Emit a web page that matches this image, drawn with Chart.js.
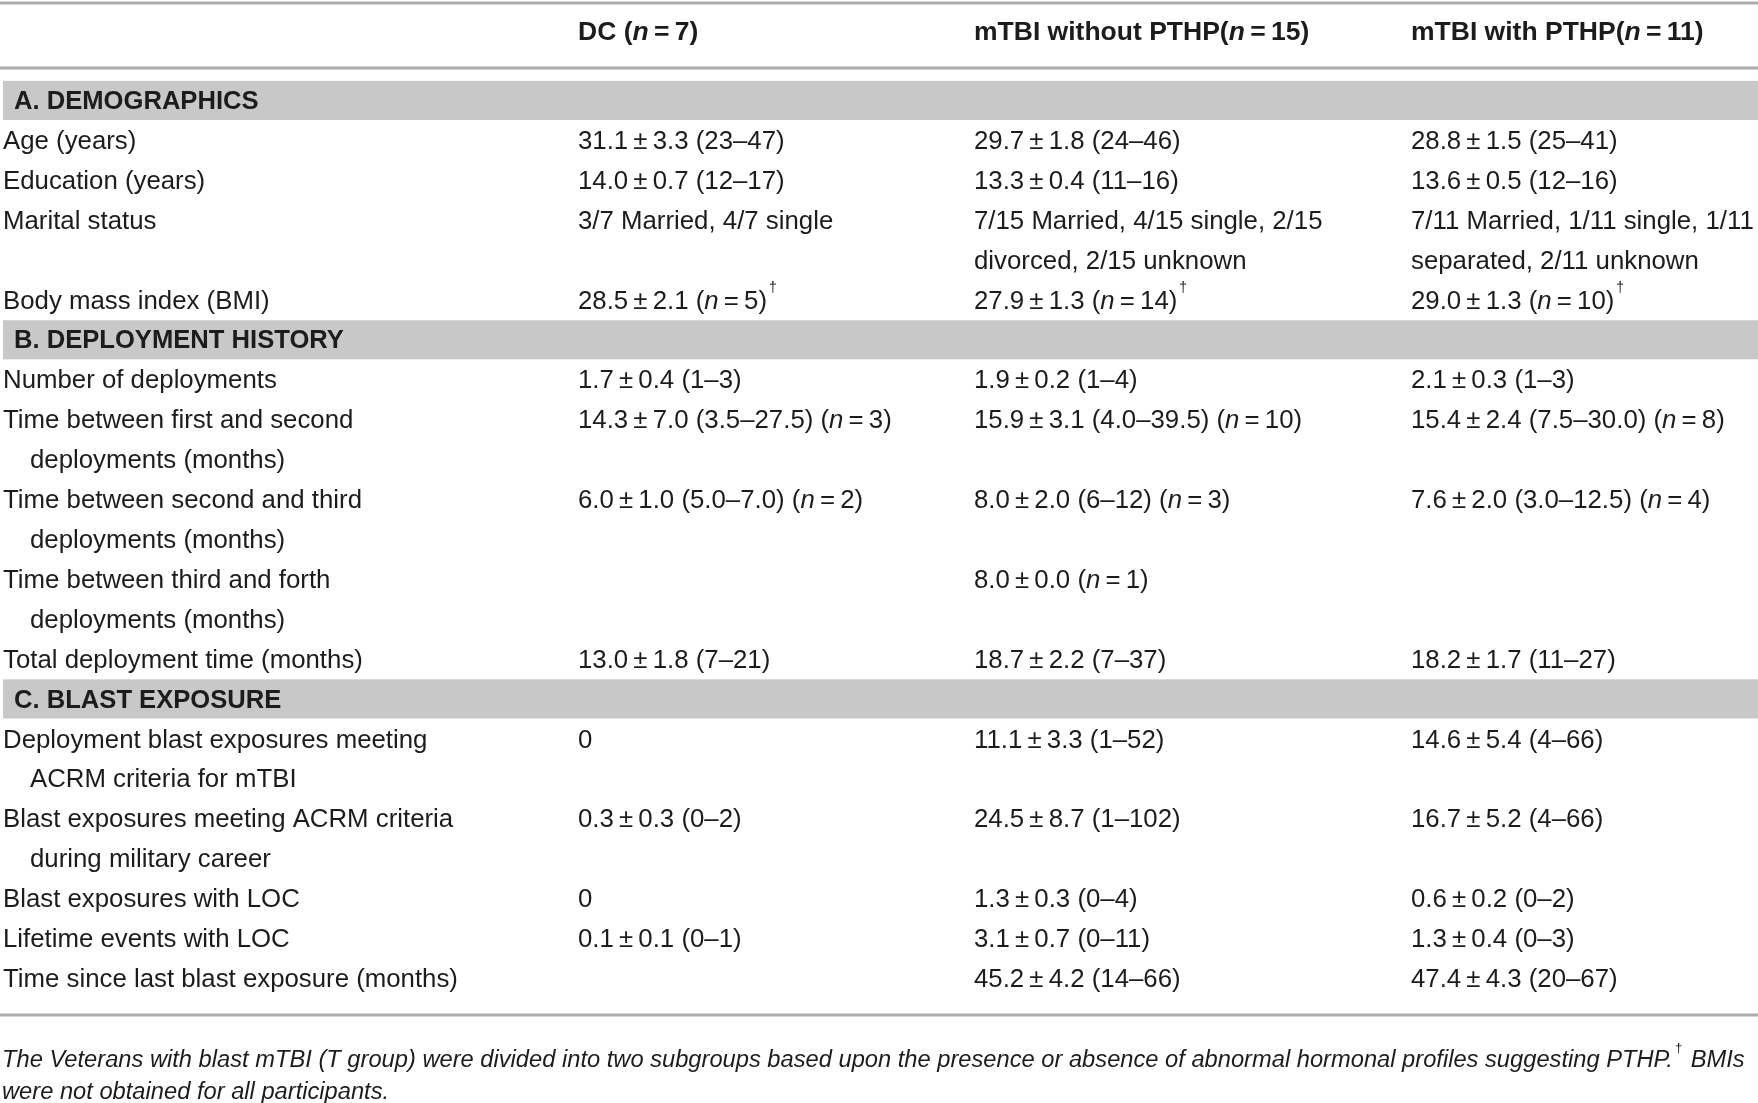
<!DOCTYPE html>
<html>
<head>
<meta charset="utf-8">
<script src="https://cdn.jsdelivr.net/npm/chart.js@4.4.1/dist/chart.umd.min.js"></script>
<style>
html, body { margin: 0; padding: 0; background: #fff; overflow: hidden; }
#table { display: block; }
</style>
</head>
<body>
<canvas id="table" width="1758" height="1103"></canvas>
<script>
// table content ({n} = italic n, ^† = superscript dagger)
var groupHeaders = ['DC ({n} = 7)', 'mTBI without PTHP({n} = 15)', 'mTBI with PTHP({n} = 11)'];
var sections = ['A. DEMOGRAPHICS', 'B. DEPLOYMENT HISTORY', 'C. BLAST EXPOSURE'];
var rowSection = [0, 0, 0, 0, 1, 1, 1, 1, 1, 2, 2, 2, 2, 2];
var rowLabels = [
    ['Age (years)'],
    ['Education (years)'],
    ['Marital status'],
    ['Body mass index (BMI)'],
    ['Number of deployments'],
    ['Time between first and second', 'deployments (months)'],
    ['Time between second and third', 'deployments (months)'],
    ['Time between third and forth', 'deployments (months)'],
    ['Total deployment time (months)'],
    ['Deployment blast exposures meeting', 'ACRM criteria for mTBI'],
    ['Blast exposures meeting ACRM criteria', 'during military career'],
    ['Blast exposures with LOC'],
    ['Lifetime events with LOC'],
    ['Time since last blast exposure (months)']
];
var dcValues = [
    ['31.1 ± 3.3 (23–47)'],
    ['14.0 ± 0.7 (12–17)'],
    ['3/7 Married, 4/7 single'],
    ['28.5 ± 2.1 ({n} = 5)^†'],
    ['1.7 ± 0.4 (1–3)'],
    ['14.3 ± 7.0 (3.5–27.5) ({n} = 3)'],
    ['6.0 ± 1.0 (5.0–7.0) ({n} = 2)'],
    [],
    ['13.0 ± 1.8 (7–21)'],
    ['0'],
    ['0.3 ± 0.3 (0–2)'],
    ['0'],
    ['0.1 ± 0.1 (0–1)'],
    []
];
var noPthpValues = [
    ['29.7 ± 1.8 (24–46)'],
    ['13.3 ± 0.4 (11–16)'],
    ['7/15 Married, 4/15 single, 2/15', 'divorced, 2/15 unknown'],
    ['27.9 ± 1.3 ({n} = 14)^†'],
    ['1.9 ± 0.2 (1–4)'],
    ['15.9 ± 3.1 (4.0–39.5) ({n} = 10)'],
    ['8.0 ± 2.0 (6–12) ({n} = 3)'],
    ['8.0 ± 0.0 ({n} = 1)'],
    ['18.7 ± 2.2 (7–37)'],
    ['11.1 ± 3.3 (1–52)'],
    ['24.5 ± 8.7 (1–102)'],
    ['1.3 ± 0.3 (0–4)'],
    ['3.1 ± 0.7 (0–11)'],
    ['45.2 ± 4.2 (14–66)']
];
var pthpValues = [
    ['28.8 ± 1.5 (25–41)'],
    ['13.6 ± 0.5 (12–16)'],
    ['7/11 Married, 1/11 single, 1/11', 'separated, 2/11 unknown'],
    ['29.0 ± 1.3 ({n} = 10)^†'],
    ['2.1 ± 0.3 (1–3)'],
    ['15.4 ± 2.4 (7.5–30.0) ({n} = 8)'],
    ['7.6 ± 2.0 (3.0–12.5) ({n} = 4)'],
    [],
    ['18.2 ± 1.7 (11–27)'],
    ['14.6 ± 5.4 (4–66)'],
    ['16.7 ± 5.2 (4–66)'],
    ['0.6 ± 0.2 (0–2)'],
    ['1.3 ± 0.4 (0–3)'],
    ['47.4 ± 4.3 (20–67)']
];
var footnote = [
    'The Veterans with blast mTBI (T group) were divided into two subgroups based upon the presence or absence of abnormal hormonal profiles suggesting PTHP.^† BMIs',
    'were not obtained for all participants.'
];

// layout
var W = 1758, H = 1103;
var pitch = 39.9, firstLinePx = 100;
var colX = [3, 578, 974, 1411];
var indentX = 30, sectionX = 14;
var headerLine = -1.73, footLines = [24.01, 24.81];
var ruleLines = [-2.44, -0.79, 22.93];
var textShift = 2;
var FONT = '"Liberation Sans", Arial, sans-serif';

// work out which text line each row sits on
var sectionLines = [];
var rowLines = [];
var line = 0, lastSec = -1;
rowLabels.forEach(function (lab, r) {
    if (rowSection[r] !== lastSec) {
        lastSec = rowSection[r];
        sectionLines.push(line);
        line++;
    }
    rowLines.push(line);
    line += Math.max(lab.length, dcValues[r].length, noPthpValues[r].length, pthpValues[r].length);
});

function cellPoints(values, x, indent) {
    var pts = [];
    values.forEach(function (lines, r) {
        lines.forEach(function (t, k) {
            pts.push({ x: (k > 0 && indent) ? indentX : x, y: rowLines[r] + k, text: t });
        });
    });
    return pts;
}

var datasets = [
    { label: 'rows', data: cellPoints(rowLabels, colX[0], true), textSize: 25.8, textWeight: 'normal' },
    { label: 'DC', data: cellPoints(dcValues, colX[1]), textSize: 25.8, textWeight: 'normal' },
    { label: 'mTBI without PTHP', data: cellPoints(noPthpValues, colX[2]), textSize: 25.8, textWeight: 'normal' },
    { label: 'mTBI with PTHP', data: cellPoints(pthpValues, colX[3]), textSize: 25.8, textWeight: 'normal' },
    { label: 'sections', data: sections.map(function (s, i) { return { x: sectionX, y: sectionLines[i], text: s }; }), textSize: 25.6, textWeight: 'bold' },
    { label: 'header', data: groupHeaders.map(function (s, i) { return { x: colX[i + 1], y: headerLine, text: s }; }), textSize: 26.5, textWeight: 'bold' },
    { label: 'footnote', data: footnote.map(function (s, i) { return { x: colX[0] - 1, y: footLines[i], text: s }; }), textSize: 23.7, textWeight: 'normal', italic: true }
];
datasets.forEach(function (d) { d.pointRadius = 0; d.showLine = false; });

function drawRich(ctx, str, x, y, size, weight, italic) {
    var parts = str.replace(/ ± /g, '\u2009±\u2009').replace(/ = /g, '\u2009=\u2009').split(/(\{n\}|\^†)/);
    parts.forEach(function (p) {
        if (!p) return;
        if (p === '{n}') {
            ctx.font = 'italic ' + weight + ' ' + size + 'px ' + FONT;
            ctx.fillText('n', x, y);
            x += ctx.measureText('n').width;
        } else if (p === '^†') {
            ctx.font = weight + ' ' + Math.round(size * 0.55) + 'px ' + FONT;
            ctx.fillText('†', x + 2, y - size * 0.5);
            x += ctx.measureText('†').width + 4;
        } else {
            ctx.font = (italic ? 'italic ' : '') + weight + ' ' + size + 'px ' + FONT;
            ctx.fillText(p, x, y);
            x += ctx.measureText(p).width;
        }
    });
}

var tablePlugin = {
    id: 'tablePlugin',
    beforeDatasetsDraw: function (chart) {
        var ctx = chart.ctx, ys = chart.scales.y, area = chart.chartArea;
        ctx.save();
        ctx.fillStyle = '#c8c8c8';
        sectionLines.forEach(function (l) {
            var t = ys.getPixelForValue(l - 0.48), b = ys.getPixelForValue(l + 0.5);
            ctx.fillRect(area.left + 3, t, area.right - area.left - 3, b - t);
        });
        ctx.strokeStyle = '#acacac';
        ctx.lineWidth = 3;
        ruleLines.forEach(function (l) {
            var py = Math.round(ys.getPixelForValue(l));
            ctx.beginPath();
            ctx.moveTo(area.left, py);
            ctx.lineTo(area.right, py);
            ctx.stroke();
        });
        ctx.restore();
    },
    afterDatasetsDraw: function (chart) {
        var ctx = chart.ctx;
        ctx.save();
        ctx.fillStyle = '#1c1c1c';
        ctx.textBaseline = 'middle';
        ctx.textAlign = 'left';
        chart.data.datasets.forEach(function (ds, i) {
            var meta = chart.getDatasetMeta(i);
            meta.data.forEach(function (pt, j) {
                drawRich(ctx, ds.data[j].text, pt.x, pt.y + textShift, ds.textSize, ds.textWeight, ds.italic);
            });
        });
        ctx.restore();
    }
};

var tableChart = new Chart(document.getElementById('table').getContext('2d'), {
    type: 'scatter',
    data: { datasets: datasets },
    options: {
        responsive: false,
        devicePixelRatio: 1,
        animation: false,
        layout: { padding: 0 },
        plugins: { legend: { display: false }, tooltip: { enabled: false } },
        scales: {
            x: { type: 'linear', min: 0, max: W, display: false },
            y: { type: 'linear', reverse: true, min: -firstLinePx / pitch, max: (H - firstLinePx) / pitch, display: false }
        }
    },
    plugins: [tablePlugin]
});
</script>
</body>
</html>
